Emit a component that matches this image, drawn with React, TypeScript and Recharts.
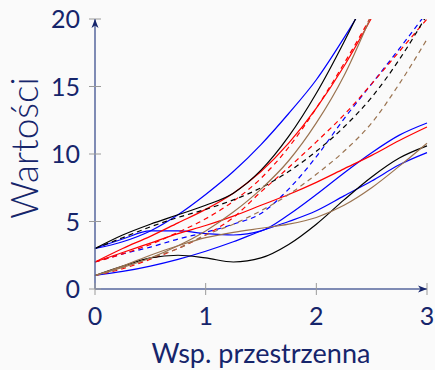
import React from 'react';
import { LineChart, Line, XAxis, YAxis } from 'recharts';

const xs = [0, 0.25, 0.5, 0.75, 1, 1.25, 1.5, 1.75, 2, 2.25, 2.5, 2.75, 3];

const blueSteep = [3, 3.5, 4.3, 5.5, 7.0, 8.7, 10.7, 13.0, 15.5, 18.6, 22.0, 25.6, 29.5];
const blueWave = [3, 3.7, 4.3, 4.3, 4.1, 4.0, 4.3, 5.5, 7.0, 8.6, 10.1, 11.4, 12.3];
const blueLow = [1, 1.3, 1.7, 2.2, 2.8, 3.5, 4.3, 5.0, 5.8, 6.9, 8.0, 9.2, 10.1];
const blueDashed = [2, 2.6, 3.1, 3.7, 4.2, 4.8, 5.6, 7.4, 9.8, 12.6, 15.2, 17.8, 20.5];

const redSteep = [2, 3.0, 3.9, 4.9, 5.9, 7.1, 8.7, 10.8, 13.4, 16.5, 20.1, 24, 28.5];
const redLine = [2, 2.7, 3.4, 4.1, 4.7, 5.4, 6.2, 7.0, 7.9, 8.9, 9.9, 11.0, 12.0];
const redDashedSteep = [2, 2.6, 3.3, 4.2, 5.2, 6.5, 8.2, 10.5, 13.4, 16.7, 20.3, 24.5, 29];
const redDashed = [1, 1.5, 2.2, 3.0, 4.0, 5.3, 7.2, 9.0, 10.9, 12.9, 15.2, 17.6, 20.0];

const blackSteep = [3, 4.0, 4.8, 5.5, 6.2, 7.1, 8.8, 11.3, 14.5, 18.3, 22.5, 27, 32];
const blackWave = [1, 1.7, 2.3, 2.5, 2.3, 2.0, 2.3, 3.3, 4.8, 6.6, 8.3, 9.7, 10.6];
const blackDashed = [3, 3.8, 4.6, 5.3, 5.9, 6.6, 7.5, 8.7, 10.2, 12.0, 14.2, 17.0, 20.3];

const brownSteep = [1, 1.6, 2.3, 3.2, 4.3, 5.7, 7.4, 9.5, 12.3, 15.8, 20.3, 25, 30];
const brownLine = [1, 1.7, 2.5, 3.2, 3.8, 4.2, 4.5, 4.8, 5.3, 6.2, 7.5, 9.1, 10.8];
const brownDashed = [1, 1.6, 2.3, 3.0, 4.0, 4.8, 5.8, 7.0, 8.5, 10.2, 12.3, 15.2, 18.5];

const xTicks = [0, 1, 2, 3];
const yTicks = [0, 5, 10, 15, 20];

const BLUE = '#0000ff';
const RED = '#ff0000';
const BLACK = '#000000';
const BROWN = '#9a7350';
const NAVY = '#16256b';
const AXIS = '#56669c';
const TICK = '#9a9a9a';
const FONT = 'Lato, sans-serif';

const series = [
  { key: 'blueSteep', values: blueSteep, color: BLUE, dashed: false },
  { key: 'blueWave', values: blueWave, color: BLUE, dashed: false },
  { key: 'blueLow', values: blueLow, color: BLUE, dashed: false },
  { key: 'blueDashed', values: blueDashed, color: BLUE, dashed: true },
  { key: 'redSteep', values: redSteep, color: RED, dashed: false },
  { key: 'redLine', values: redLine, color: RED, dashed: false },
  { key: 'redDashedSteep', values: redDashedSteep, color: RED, dashed: true },
  { key: 'redDashed', values: redDashed, color: RED, dashed: true },
  { key: 'blackSteep', values: blackSteep, color: BLACK, dashed: false },
  { key: 'blackWave', values: blackWave, color: BLACK, dashed: false },
  { key: 'blackDashed', values: blackDashed, color: BLACK, dashed: true },
  { key: 'brownSteep', values: brownSteep, color: BROWN, dashed: false },
  { key: 'brownLine', values: brownLine, color: BROWN, dashed: false },
  { key: 'brownDashed', values: brownDashed, color: BROWN, dashed: true },
];

const data = xs.map((x, i) => {
  const row: Record<string, number> = { x };
  series.forEach(s => {
    row[s.key] = s.values[i];
  });
  return row;
});

const YTick = (props: any) => {
  const { x, y, payload } = props;
  return (
    <g>
      <line x1={x - 6} x2={x + 6} y1={y} y2={y} stroke={TICK} strokeWidth={1} />
      {payload.value === 20 && (
        <path d={`M${x},${y} L${x - 3.5},${y + 9} L${x},${y + 6.5} L${x + 3.5},${y + 9} Z`} fill={NAVY} />
      )}
      <text x={x - 15} y={y} dy="0.36em" textAnchor="end" fill={NAVY} fontSize={25} fontFamily={FONT}>
        {payload.value}
      </text>
    </g>
  );
};

const XTick = (props: any) => {
  const { x, y, payload } = props;
  return (
    <g>
      <line x1={x} x2={x} y1={y - 6} y2={y + 6} stroke={TICK} strokeWidth={1} />
      {payload.value === 3 && (
        <path d={`M${x},${y} L${x - 9},${y - 3.5} L${x - 6.5},${y} L${x - 9},${y + 3.5} Z`} fill={NAVY} />
      )}
      <text x={x} y={y + 36} textAnchor="middle" fill={NAVY} fontSize={25} fontFamily={FONT}>
        {payload.value}
      </text>
    </g>
  );
};

const App: React.FC = () => {
  return (
    <div style={{ position: 'absolute', left: 0, top: 0, width: 435, height: 370, background: '#fafafa' }}>
      <LineChart width={435} height={370} data={data} margin={{ top: 19, right: 8, bottom: 0, left: 0 }}>
        <XAxis
          dataKey="x"
          type="number"
          domain={[0, 3]}
          ticks={xTicks}
          height={81}
          tickSize={0}
          tickMargin={0}
          tickLine={false}
          axisLine={{ stroke: AXIS, strokeWidth: 1.5 }}
          tick={<XTick />}
          label={{
            content: () => (
              <text x={261} y={363} textAnchor="middle" fill={NAVY} fontSize={27} fontFamily={FONT}>
                Wsp. przestrzenna
              </text>
            ),
          }}
        />
        <YAxis
          type="number"
          domain={[0, 20]}
          ticks={yTicks}
          width={95}
          allowDataOverflow
          tickSize={0}
          tickMargin={0}
          tickLine={false}
          axisLine={{ stroke: AXIS, strokeWidth: 1.5 }}
          tick={<YTick />}
          label={{
            content: () => (
              <text
                x={38}
                y={148}
                transform="rotate(-90 38 148)"
                textAnchor="middle"
                fill={NAVY}
                fontSize={37}
                fontWeight={300}
                fontFamily={FONT}
              >
                Wartości
              </text>
            ),
          }}
        />
        {series.map(s => (
          <Line
            key={s.key}
            dataKey={s.key}
            type="monotone"
            stroke={s.color}
            strokeWidth={1.2}
            strokeDasharray={s.dashed ? '5 4' : undefined}
            dot={false}
            activeDot={false}
            isAnimationActive={false}
          />
        ))}
      </LineChart>
    </div>
  );
};

export default App;
